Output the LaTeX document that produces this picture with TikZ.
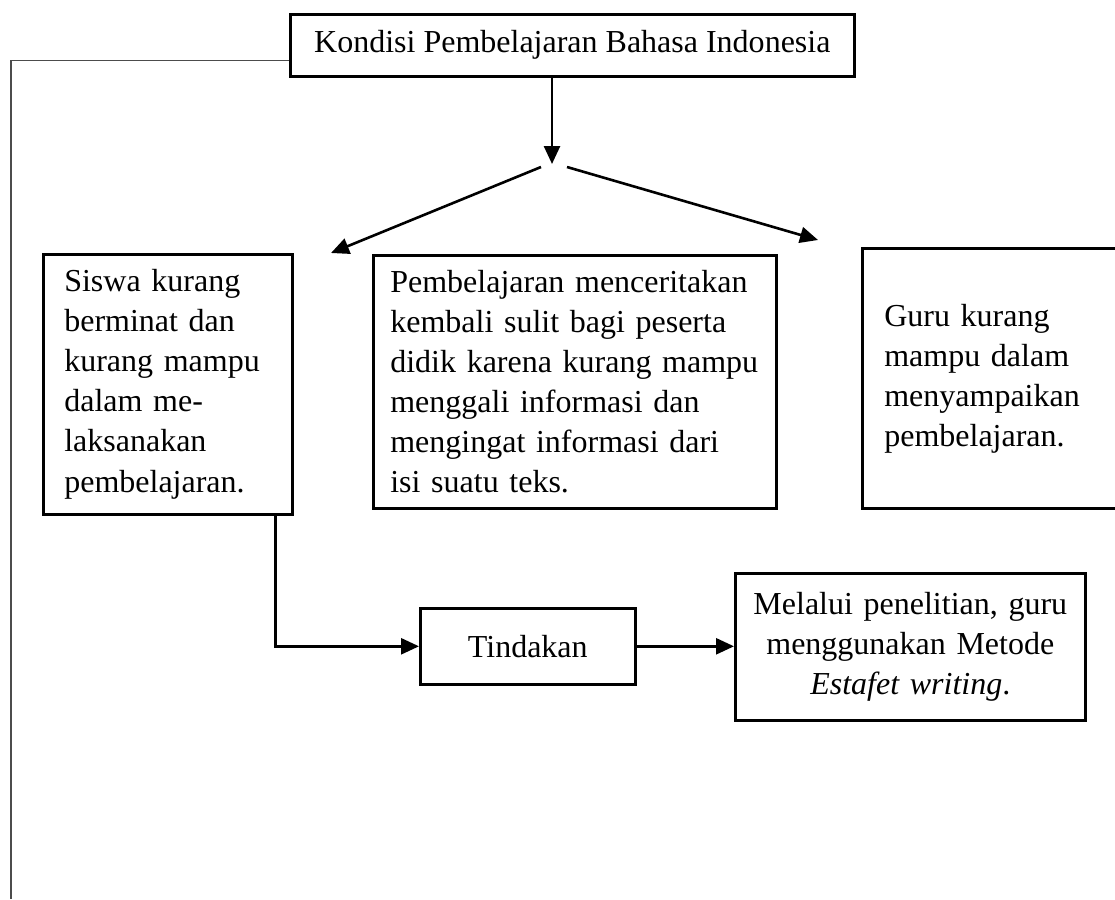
\documentclass[tikz,border=0pt]{standalone}
\usepackage{fontspec}
\setmainfont{Liberation Serif}
\usetikzlibrary{arrows.meta}

\tikzset{every picture/.style={line width=2.6pt}}
\tikzset{
  kotak/.style={draw, anchor=north west, inner sep=0pt, font=\fontsize{32}{40}\selectfont},
  panah/.style={-{Triangle[length=18pt,width=16pt]}},
}

\begin{document}
\begin{tikzpicture}[x=1pt,y=1pt,yscale=-1,xscale=1]
			\useasboundingbox (0,0) rectangle (1115,899);
			
			%Shape: Rectangle
			\node [kotak, minimum width=564, minimum height=62] (kondisi) at (289,13) {Kondisi Pembelajaran Bahasa Indonesia};
			%Shape: Rectangle
			\node [kotak, inner xsep=21pt, text width=207pt, align=left, minimum height=260] (siswa) at (42,253) {Siswa kurang\\ berminat dan\\ kurang mampu\\ dalam me-\\ laksanakan\\ pembelajaran.};
			%Shape: Rectangle
			\node [kotak, inner xsep=17pt, text width=369pt, align=left, minimum height=253] (sulit) at (372,254) {Pembelajaran menceritakan\\ kembali sulit bagi peserta\\ didik karena kurang mampu\\ menggali informasi dan\\ mengingat informasi dari\\ isi suatu teks.};
			%Shape: Rectangle
			\node [kotak, inner xsep=22pt, text width=220pt, align=left, minimum height=260] (guru) at (861,247) {Guru kurang\\ mampu dalam\\ menyampaikan\\ pembelajaran.};
			%Shape: Rectangle
			\node [kotak, minimum width=215, minimum height=76] (tindakan) at (419,607) {Tindakan};
			%Shape: Rectangle
			\node [kotak, text width=350pt, align=center, minimum height=147] (metode) at (734,572) {Melalui penelitian, guru\\ menggunakan Metode\\ \textit{Estafet writing}.};
			
			\coordinate (cabang) at (552,164);
			\coordinate (kiri1) at (541,167);
			\coordinate (kiri2) at (331,253);
			\coordinate (kanan1) at (567,167);
			\coordinate (kanan2) at (818,240);
			\coordinate (bawah) at (11,899);
			
			%Straight Lines
			\draw [line width=1.3pt, color=black!70] ([yshift=15pt]kondisi.west) -| (bawah) ;
			%Straight Lines
			\draw [panah] (kondisi.south -| cabang) -- (cabang) ;
			%Straight Lines
			\draw [panah] (kiri1) -- (kiri2) ;
			%Straight Lines
			\draw [panah] (kanan1) -- (kanan2) ;
			%Straight Lines
			\draw [panah] ([xshift=107.5pt]siswa.south) |- (tindakan.west) ;
			%Straight Lines
			\draw [panah] (tindakan.east) -- (tindakan.east -| metode.west) ;
		\end{tikzpicture}
\end{document}
